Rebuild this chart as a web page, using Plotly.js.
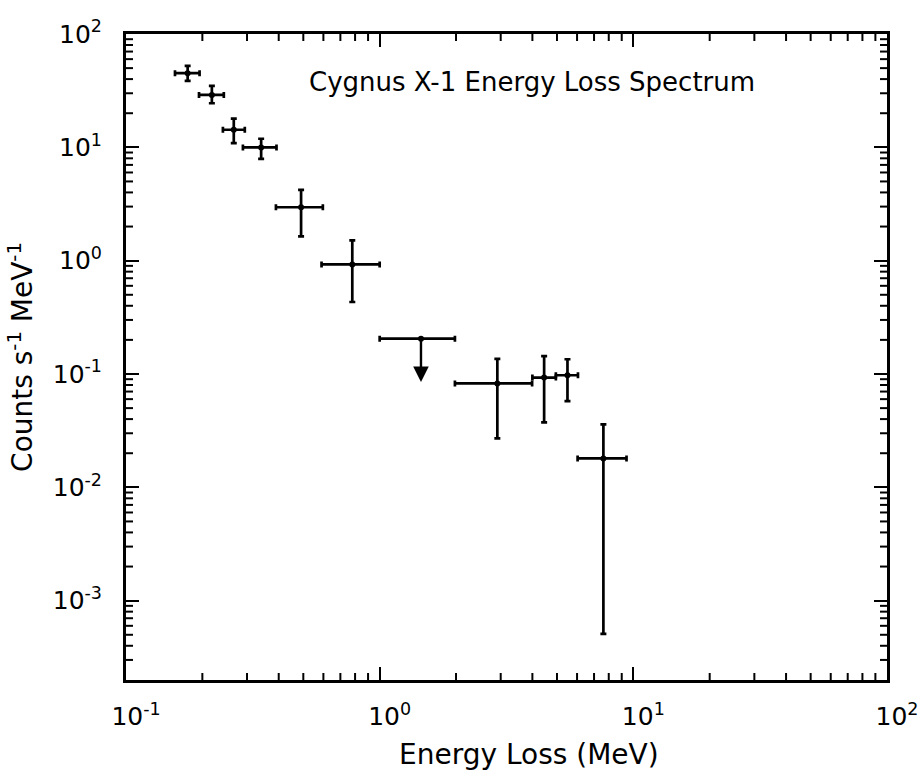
<!DOCTYPE html>
<html>
<head>
<meta charset="utf-8">
<script src="https://cdn.plot.ly/plotly-3.0.1.min.js"></script>
<style>html,body{margin:0;padding:0;background:#fff;}#chart{width:923px;height:772px;}</style>
</head>
<body>
<div id="chart"></div>
<script>
// Measured points (MeV, counts s^-1 MeV^-1)
const energy    = [0.175, 0.218, 0.266, 0.341, 0.49, 0.78, 2.91, 4.45, 5.5, 7.62];
const energyLo  = [0.156, 0.194, 0.241, 0.289, 0.39, 0.59, 1.98, 4.0, 4.95, 6.03];
const energyHi  = [0.195, 0.243, 0.294, 0.392, 0.597, 1.0, 3.99, 4.95, 6.05, 9.4];
const counts    = [45.1, 29.0, 14.3, 9.98, 2.96, 0.926, 0.0826, 0.093, 0.0975, 0.018];
const countsLo  = [38.6, 24.5, 10.9, 7.9, 1.64, 0.432, 0.027, 0.0374, 0.0577, 0.00051];
const countsHi  = [52.3, 34.9, 17.9, 11.9, 4.21, 1.51, 0.136, 0.144, 0.135, 0.036];

// Upper limit point
const ulEnergy   = [1.455];
const ulEnergyLo = [1.0];
const ulEnergyHi = [1.98];
const ulCounts   = [0.205];
const ulArrowTip = [0.085];

const xExponents = [-1, 0, 1, 2];
const yExponents = [-3, -2, -1, 0, 1, 2];

const xTickVals = xExponents.map(e => Math.pow(10, e));
const yTickVals = yExponents.map(e => Math.pow(10, e));
const xTickText = xExponents.map(e => '10<sup>' + e + '</sup>');
const yTickText = yExponents.map(e => '10<sup>' + e + '</sup>');

const xRange = [-1, 2];
const yRange = [-3.7, 2];

// minor tick values (2..9 x 10^e) inside the axis range
function minorVals(range) {
  const out = [];
  for (let e = Math.floor(range[0]); e < Math.ceil(range[1]); e++) {
    for (let d = 2; d <= 9; d++) {
      const v = d * Math.pow(10, e);
      const l = Math.log10(v);
      if (l > range[0] + 0.01 && l < range[1] - 0.01) out.push(v);
    }
  }
  return out;
}

const MINOR_LEN = 7;
const tickLine = {color: 'black', width: 2};
const shapes = [];
minorVals(xRange).forEach(v => {
  shapes.push({type: 'line', layer: 'above', xref: 'x', yref: 'paper', ysizemode: 'pixel', yanchor: 0,
    x0: v, x1: v, y0: 0, y1: MINOR_LEN, line: tickLine});
  shapes.push({type: 'line', layer: 'above', xref: 'x', yref: 'paper', ysizemode: 'pixel', yanchor: 1,
    x0: v, x1: v, y0: 0, y1: -MINOR_LEN, line: tickLine});
});
minorVals(yRange).forEach(v => {
  shapes.push({type: 'line', layer: 'above', xref: 'paper', yref: 'y', xsizemode: 'pixel', xanchor: 0,
    x0: 0, x1: MINOR_LEN, y0: v, y1: v, line: tickLine});
  shapes.push({type: 'line', layer: 'above', xref: 'paper', yref: 'y', xsizemode: 'pixel', xanchor: 1,
    x0: 0, x1: -MINOR_LEN, y0: v, y1: v, line: tickLine});
});

const errStyle = {color: 'black', thickness: 2.7, width: 3};

const main = {
  type: 'scatter', mode: 'markers',
  x: energy, y: counts,
  marker: {color: 'black', size: 6},
  error_x: Object.assign({type: 'data', symmetric: false,
    array: energy.map((v, i) => energyHi[i] - v),
    arrayminus: energy.map((v, i) => v - energyLo[i])}, errStyle),
  error_y: Object.assign({type: 'data', symmetric: false,
    array: counts.map((v, i) => countsHi[i] - v),
    arrayminus: counts.map((v, i) => v - countsLo[i])}, errStyle),
  showlegend: false
};

const ul = {
  type: 'scatter', mode: 'markers',
  x: ulEnergy, y: ulCounts,
  marker: {color: 'black', size: 6},
  error_x: Object.assign({type: 'data', symmetric: false,
    array: ulEnergy.map((v, i) => ulEnergyHi[i] - v),
    arrayminus: ulEnergy.map((v, i) => v - ulEnergyLo[i])}, errStyle),
  showlegend: false
};

const axisFont = {family: 'DejaVu Sans', size: 25, color: 'black'};
const titleFont = {family: 'DejaVu Sans', size: 28, color: 'black'};

const commonAxis = {
  type: 'log',
  showgrid: false, zeroline: false,
  showline: true, linecolor: 'black', linewidth: 3,
  mirror: 'allticks',
  ticks: 'inside', ticklen: 13, tickwidth: 2, tickcolor: 'black',
  tickmode: 'array',
  tickfont: axisFont
};

const layout = {
  width: 923, height: 772,
  margin: {l: 126, r: 36, t: 34, b: 92},
  paper_bgcolor: 'white', plot_bgcolor: 'white',
  font: {family: 'DejaVu Sans', color: 'black'},
  xaxis: Object.assign({}, commonAxis, {
    range: xRange, tickvals: xTickVals, ticktext: xTickText,
    ticklabelstandoff: 12, ticklabelshift: 10
  }),
  yaxis: Object.assign({}, commonAxis, {
    range: yRange, tickvals: yTickVals, ticktext: yTickText,
    ticklabelstandoff: 16,
    title: {text: 'Counts s<sup>-1</sup> MeV<sup>-1</sup>', font: titleFont, standoff: 12}
  }),
  shapes: shapes,
  annotations: [
    {
      xref: 'paper', yref: 'paper', x: 0.53, y: -0.116, xanchor: 'center', yanchor: 'middle',
      text: 'Energy Loss (MeV)', showarrow: false, font: titleFont
    },
    {
      xref: 'paper', yref: 'paper', x: 0.533, y: 0.926, xanchor: 'center', yanchor: 'middle',
      text: 'Cygnus X-1 Energy Loss Spectrum', showarrow: false,
      font: {family: 'DejaVu Sans', size: 26, color: 'black'}
    },
    {
      xref: 'x', yref: 'y', axref: 'x', ayref: 'y',
      x: Math.log10(ulEnergy[0]), y: Math.log10(ulArrowTip[0]),
      ax: Math.log10(ulEnergy[0]), ay: Math.log10(ulCounts[0]),
      showarrow: true, arrowhead: 2, arrowsize: 1.3, arrowwidth: 2.4, arrowcolor: 'black', text: ''
    }
  ]
};

Plotly.newPlot('chart', [main, ul], layout, {displayModeBar: false, staticPlot: true});
</script>
</body>
</html>
